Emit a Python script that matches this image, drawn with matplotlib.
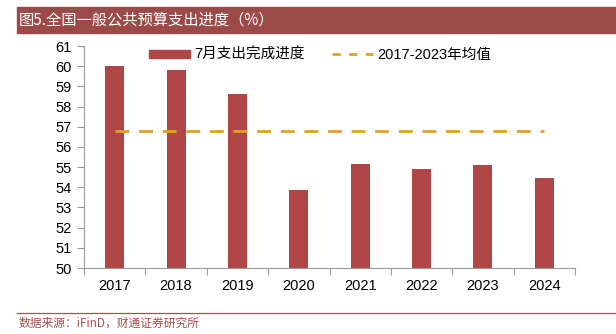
import matplotlib
matplotlib.use("Agg")
import matplotlib.pyplot as plt
from matplotlib.patches import Rectangle
from matplotlib.lines import Line2D
import numpy as np

plt.rcParams['font.family'] = ['Liberation Sans', 'Noto Sans CJK SC', 'DejaVu Sans']

years = ['2017', '2018', '2019', '2020', '2021', '2022', '2023', '2024']
progress = [60.0, 59.8, 58.6, 53.85, 55.15, 54.9, 55.1, 54.45]
avg_2017_2023 = 56.8
series_bar = '7月支出完成进度'
series_line = '2017-2023年均值'
title = '图5.全国一般公共预算支出进度（%）'
source = '数据来源：iFinD，财通证券研究所'

bar_color = '#B04645'
line_color = '#E0A126'
head_color = '#9C4A47'

fig = plt.figure(figsize=(6.16, 3.34), dpi=100)
ax = fig.add_axes([84/616, 1-268/334, (575-84)/616, (268-46)/334])

x = np.arange(len(years))
ax.bar(x, [v - 50 for v in progress], bottom=50, width=0.31, color=bar_color, label=series_bar, zorder=2)
ax.plot([x[0], x[-1]], [avg_2017_2023]*2, color=line_color, lw=2, dashes=(5, 3.5), label=series_line, zorder=3)

ax.set_ylim(50, 61)
ax.set_yticks(range(50, 62))
ax.set_xlim(-0.5, len(years) - 0.5)
ax.set_xticks(x)
ax.set_xticklabels(years)
ax.set_xticks(np.arange(-0.5, len(years)), minor=True)
ax.tick_params(axis='x', which='major', length=0, pad=8, labelsize=10.5)
ax.tick_params(axis='x', which='minor', length=5, color='#9a9a9a', width=0.8)
ax.tick_params(axis='y', length=5, color='#9a9a9a', width=0.8, labelsize=10.5, pad=4)
for s in ['top', 'right']:
    ax.spines[s].set_visible(False)
for s in ['left', 'bottom']:
    ax.spines[s].set_color('#9a9a9a')
    ax.spines[s].set_linewidth(0.8)

handles = [Rectangle((0, 0), 1, 1, color=bar_color),
           Line2D([], [], color=line_color, lw=2, dashes=(3, 3))]
leg = ax.legend(handles, [series_bar, series_line], ncol=2, frameon=False,
                loc='upper left', bbox_to_anchor=(0.105, 1.05), handlelength=2.8,
                handleheight=0.5, columnspacing=1.9, handletextpad=0.3,
                prop={'family': ['Liberation Sans', 'Noto Sans CJK SC'], 'size': 10.5})

# header bar
fig.patches.append(Rectangle((17/616, 1-33/334), 1-17/616, 26/334, transform=fig.transFigure,
                             color=head_color, zorder=0))
fig.text(19/616, 1-20/334, title, color='white', fontsize=11, va='center', ha='left',
         family=['Noto Sans CJK SC', 'DejaVu Sans'])
# bottom rule
fig.add_artist(Line2D([17/616, 1], [1-313/334]*2, transform=fig.transFigure, color='#A0524E', lw=0.9))
fig.text(19/616, 1-323/334, source, color='#A0524E', fontsize=8.5, va='center', ha='left',
         family=['Noto Sans CJK SC', 'DejaVu Sans'])

fig.savefig('out.png', dpi=100)
